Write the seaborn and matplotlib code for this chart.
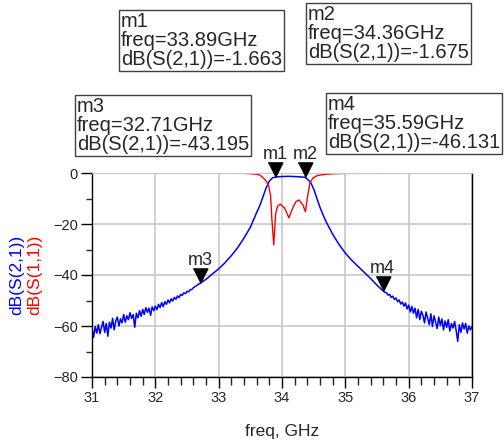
import numpy as np
import pandas as pd
import matplotlib
matplotlib.use("Agg")
import matplotlib.pyplot as plt
import seaborn as sns

# --- S(2,1) lower tail (uniform sweep, 25 MHz step) ---
freq_left = np.round(np.arange(31.0, 32.676, 0.025), 3)
s21_left = [
    -61.0, -64.5, -60.2, -62.8, -59.5, -63.0, -60.5, -58.2, -62.5, -59.0,
    -64.0, -58.5, -60.8, -57.0, -61.5, -58.0, -56.5, -60.0, -57.2, -58.8,
    -55.5, -58.5, -56.0, -57.5, -54.8, -57.0, -55.5, -60.5, -55.0, -56.8,
    -54.0, -56.2, -53.5, -55.5, -52.8, -54.6, -53.0, -55.8, -52.5, -54.0,
    -52.2, -53.6, -51.5, -52.8, -50.8, -52.4, -50.5, -51.5, -49.8, -50.9,
    -49.3, -50.2, -48.8, -49.5, -48.2, -48.9, -47.6, -48.0, -47.0, -47.3,
    -46.4, -46.6, -45.8, -45.7, -45.0, -44.6, -44.2, -43.7,
]

# --- S(2,1) passband region ---
freq_mid = [32.71, 32.8, 32.9, 33.0, 33.1, 33.2, 33.3, 33.4, 33.5, 33.6,
            33.65, 33.7, 33.75, 33.8, 33.85, 33.89, 33.95, 34.0, 34.05, 34.1,
            34.15, 34.2, 34.25, 34.3, 34.36, 34.4, 34.45, 34.5, 34.55, 34.6,
            34.65, 34.7, 34.8, 34.9, 35.0, 35.1, 35.2, 35.3, 35.4, 35.5, 35.59]
s21_mid = [-43.2, -41.7, -39.6, -37.6, -35.2, -32.4, -29.3, -25.5, -21.3, -15.5,
           -12.8, -9.3, -5.8, -3.2, -1.9, -1.66, -1.45, -1.4, -1.35, -1.3,
           -1.35, -1.4, -1.45, -1.55, -1.675, -2.4, -3.6, -6.2, -9.8, -13.5,
           -16.5, -19.3, -24.0, -28.0, -31.4, -34.2, -36.6, -39.0, -41.4, -44.0, -46.1]

# --- S(2,1) upper tail ---
freq_right = np.round(np.arange(35.625, 37.001, 0.025), 3)
s21_right = [
    -46.8, -47.0, -47.9, -47.6, -48.8, -48.3, -49.6, -49.0, -50.5, -49.8,
    -51.4, -50.6, -52.2, -51.0, -53.3, -51.8, -54.5, -52.3, -55.0, -53.0,
    -56.8, -53.5, -57.5, -54.2, -55.8, -58.8, -54.5, -57.0, -59.5, -55.2,
    -60.2, -56.0, -58.5, -61.0, -56.5, -59.8, -57.2, -61.5, -58.0, -60.5,
    -57.5, -62.0, -59.0, -60.8, -58.2, -61.8, -66.0, -59.5, -62.5, -58.8,
    -61.2, -59.0, -62.8, -60.0, -61.5, -60.2,
]

# --- S(1,1) ---
freq_s11 = [31.0, 33.0, 33.4, 33.5, 33.6, 33.65, 33.7, 33.75, 33.79, 33.82,
            33.84, 33.87, 33.9, 33.93, 33.97, 34.04, 34.11, 34.17, 34.22, 34.27,
            34.33, 34.37, 34.4, 34.44, 34.49, 34.55, 34.6, 34.7, 34.81, 35.0, 37.0]
s11 = [-0.1, -0.1, -0.15, -0.25, -0.5, -0.8, -1.8, -3.2, -5.0, -9.0,
       -18.0, -28.2, -16.0, -13.0, -12.2, -13.7, -17.6, -13.7, -11.2, -10.6,
       -12.5, -15.2, -9.8, -4.0, -1.9, -1.1, -0.8, -0.5, -0.3, -0.15, -0.1]

# --- markers ---
m_names = ["m1", "m2", "m3", "m4"]
m_freq = [33.89, 34.36, 32.71, 35.59]
m_db = [-1.663, -1.675, -43.195, -46.131]

df21 = pd.DataFrame({
    "freq": np.concatenate([freq_left, freq_mid, freq_right]),
    "db": np.concatenate([s21_left, s21_mid, s21_right]),
})
df11 = pd.DataFrame({"freq": freq_s11, "db": s11})

sns.set_style("ticks")
plt.rcParams["font.family"] = ["Liberation Sans", "DejaVu Sans"]

fig = plt.figure(figsize=(5.04, 4.41), dpi=100)
ax = fig.add_axes([92 / 504, 1 - 377 / 441, 380 / 504, 204 / 441])

sns.lineplot(data=df21, x="freq", y="db", color="#0000ff", lw=1.1, ax=ax, sort=False)
sns.lineplot(data=df11, x="freq", y="db", color="#ff0000", lw=1.0, ax=ax, sort=False)

ax.set_xlim(31, 37)
ax.set_ylim(-80, 0)
ax.set_xticks(range(31, 38))
ax.set_xticks(np.arange(31, 37.01, 0.2), minor=True)
ax.set_yticks(range(-80, 1, 20))
ax.set_yticks(range(-80, 1, 10), minor=True)
ax.grid(True, which="major", color="#c8c8c8", lw=1.2)
ax.tick_params(axis="both", which="major", direction="out", length=8, width=1,
               labelsize=10.5, color="black", pad=2)
ax.tick_params(axis="x", which="minor", direction="out", length=5.5, width=1)
ax.tick_params(axis="y", which="minor", direction="out", length=4, width=1)
for s in ["left", "bottom", "right"]:
    ax.spines[s].set_color("black")
    ax.spines[s].set_linewidth(1.0)
    ax.spines[s].set_visible(True)
ax.spines["top"].set_color("#c8c8c8")
ax.set_xlabel("freq, GHz", fontsize=12.5, labelpad=14)
ax.set_ylabel("")

# marker triangles with tip on the trace
tri = [(-0.5, 1.0), (0.5, 1.0), (0.0, 0.0)]
ax.plot(m_freq, m_db, ls="none", marker=tri, ms=21, color="black", clip_on=False, zorder=5)
for name, f, d in zip(m_names, m_freq, m_db):
    ax.annotate(name, (f, d), xytext=(0, 13), textcoords="offset points",
                ha="center", va="baseline", fontsize=13, annotation_clip=False)

# y labels, two colours
fig.text(17 / 504, 1 - 275 / 441, "dB(S(2,1))", color="#0000ff", rotation=90,
         ha="center", va="center", fontsize=12.5)
fig.text(35 / 504, 1 - 275 / 441, "dB(S(1,1))", color="#ff0000", rotation=90,
         ha="center", va="center", fontsize=12.5)

# marker readout boxes
box_pos = [(121, 12), (308, 5), (77, 97), (328, 95)]
for name, f, d, (px, py) in zip(m_names, m_freq, m_db, box_pos):
    txt = f"{name}\nfreq={f:.2f}GHz\ndB(S(2,1))={d:.3f}"
    fig.text(px / 504, 1 - py / 441, txt, ha="left", va="top", fontsize=14.5,
             linespacing=1.0,
             bbox=dict(boxstyle="square,pad=0.1", fc="white", ec="#404040", lw=1.0))

fig.savefig("out.png", dpi=100)
